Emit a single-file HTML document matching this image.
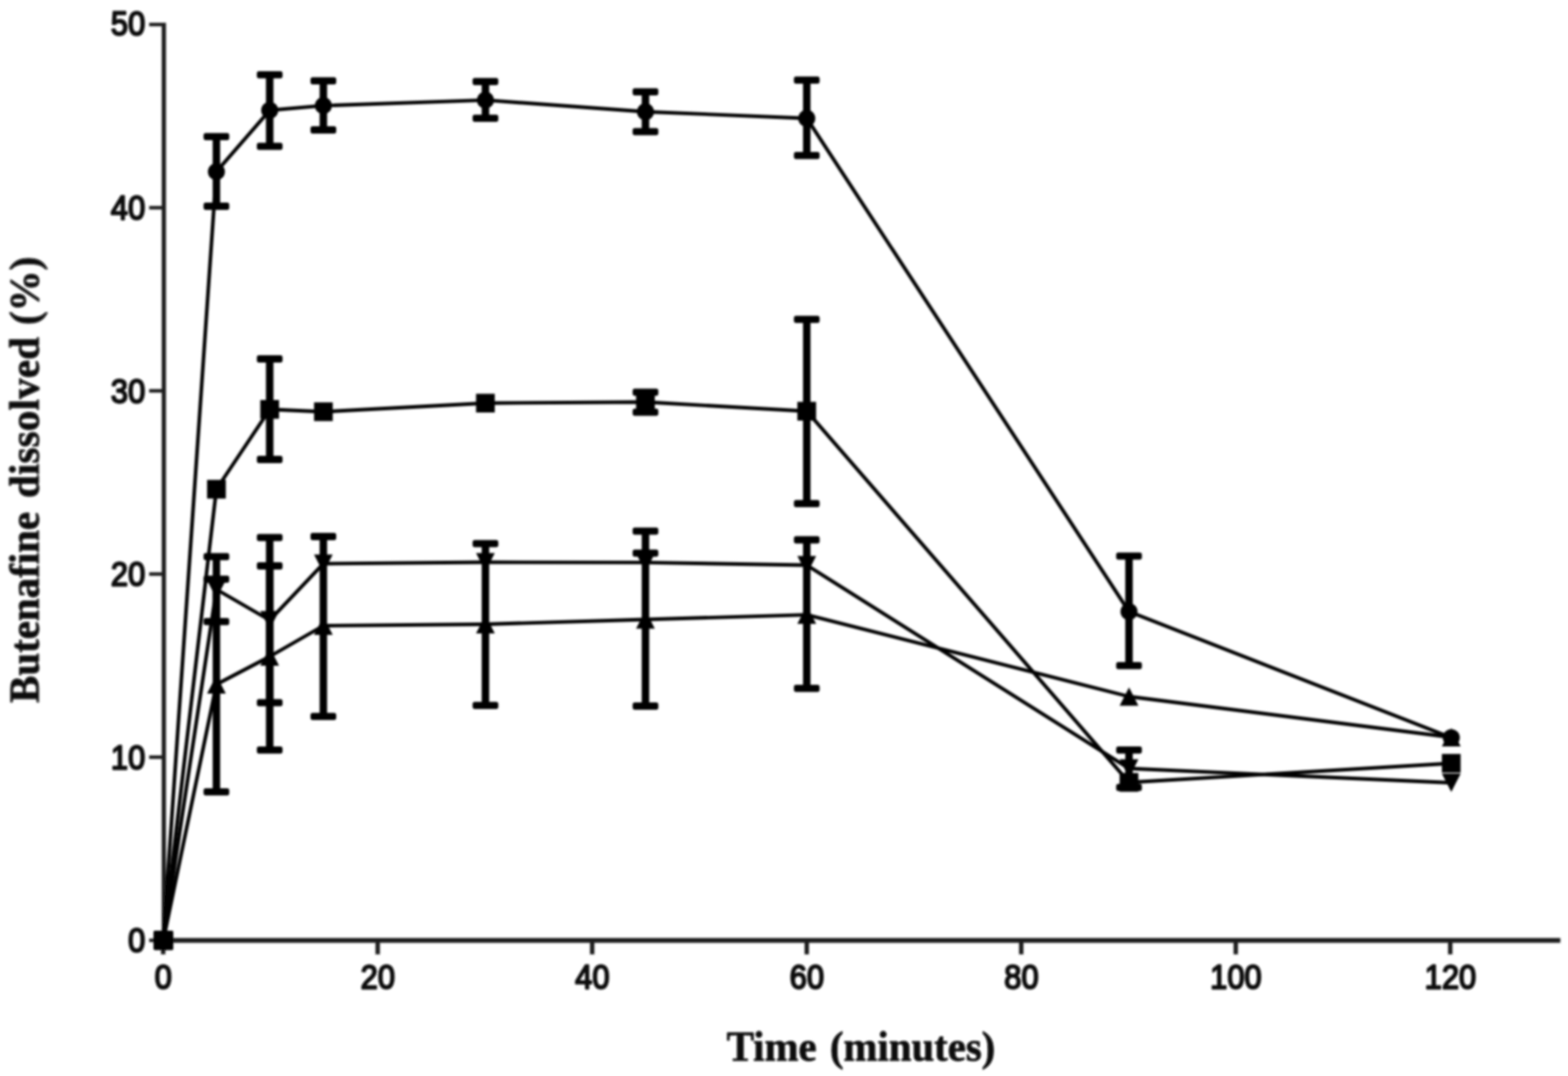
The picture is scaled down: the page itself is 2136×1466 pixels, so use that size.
<!DOCTYPE html>
<html lang="en">
<head>
<meta charset="utf-8">
<title>Butenafine dissolved (%) vs Time (minutes)</title>
<style>
html,body{margin:0;padding:0;background:#fff;}
body{width:2136px;height:1466px;overflow:hidden;}
svg{display:block;}
</style>
</head>
<body>
<svg width="2136" height="1466" viewBox="0 0 2136 1466">
<defs><filter id="soft" x="0" y="0" width="2136" height="1466" filterUnits="userSpaceOnUse"><feGaussianBlur stdDeviation="1.4"/></filter></defs>
<rect width="2136" height="1466" fill="#fff"/>
<g filter="url(#soft)">
<g id="axes" stroke="#1c1c1c" fill="none">
<path d="M223.2 31.0V1284.1" stroke-width="5.8"/>
<path d="M220.3 1281.2H2125.6" stroke-width="6.6"/>
<path d="M203.2 1281.2H223.2" stroke-width="4.8"/>
<path d="M203.2 1031.6H223.2" stroke-width="4.8"/>
<path d="M203.2 782.1H223.2" stroke-width="4.8"/>
<path d="M203.2 532.5H223.2" stroke-width="4.8"/>
<path d="M203.2 283.0H223.2" stroke-width="4.8"/>
<path d="M203.2 33.4H223.2" stroke-width="4.8"/>
<path d="M222.3 1281.2V1300.3" stroke-width="6.0"/>
<path d="M514.5 1281.2V1300.3" stroke-width="6.0"/>
<path d="M806.7 1281.2V1300.3" stroke-width="6.0"/>
<path d="M1099.0 1281.2V1300.3" stroke-width="6.0"/>
<path d="M1391.2 1281.2V1300.3" stroke-width="6.0"/>
<path d="M1683.4 1281.2V1300.3" stroke-width="6.0"/>
<path d="M1975.6 1281.2V1300.3" stroke-width="6.0"/>
</g>
<g id="lines" stroke="#000" fill="none" stroke-width="4.9" stroke-linejoin="round">
<polyline points="222.5,1281.3 294.8,233.9 367.4,150.3 440.5,143.9 661.3,136.4 879.3,152.2 1099.0,161.2 1538.0,833.3 1977.0,1005.0"/>
<polyline points="222.5,1281.3 294.8,666.5 367.4,557.8 440.5,561.0 661.3,549.2 879.3,547.8 1099.0,560.2 1538.0,1066.0 1977.0,1040.0"/>
<polyline points="222.5,1281.3 294.8,803.0 367.4,845.0 440.5,768.0 661.3,766.0 879.3,766.4 1099.0,770.0 1538.0,1047.0 1977.0,1066.5"/>
<polyline points="222.5,1281.3 294.8,932.5 367.4,894.5 440.5,852.5 661.3,850.5 879.3,844.0 1099.0,837.6 1538.0,949.0 1977.0,1004.5"/>
</g>
<g id="errorbars" stroke="#000" fill="none">
<path d="M294.8 186.1V281.0" stroke-width="10.2"/>
<rect x="277.3" y="181.2" width="35.0" height="9.8" rx="3" fill="#000" stroke="none"/>
<rect x="277.3" y="276.1" width="35.0" height="9.8" rx="3" fill="#000" stroke="none"/>
<path d="M367.4 101.8V199.4" stroke-width="10.2"/>
<rect x="349.9" y="96.9" width="35.0" height="9.8" rx="3" fill="#000" stroke="none"/>
<rect x="349.9" y="194.5" width="35.0" height="9.8" rx="3" fill="#000" stroke="none"/>
<path d="M440.5 110.2V177.0" stroke-width="10.2"/>
<rect x="423.0" y="105.3" width="35.0" height="9.8" rx="3" fill="#000" stroke="none"/>
<rect x="423.0" y="172.1" width="35.0" height="9.8" rx="3" fill="#000" stroke="none"/>
<path d="M661.3 111.2V161.2" stroke-width="10.2"/>
<rect x="643.8" y="106.3" width="35.0" height="9.8" rx="3" fill="#000" stroke="none"/>
<rect x="643.8" y="156.3" width="35.0" height="9.8" rx="3" fill="#000" stroke="none"/>
<path d="M879.3 125.2V179.4" stroke-width="10.2"/>
<rect x="861.8" y="120.3" width="35.0" height="9.8" rx="3" fill="#000" stroke="none"/>
<rect x="861.8" y="174.5" width="35.0" height="9.8" rx="3" fill="#000" stroke="none"/>
<path d="M1099.0 109.2V211.8" stroke-width="10.2"/>
<rect x="1081.5" y="104.3" width="35.0" height="9.8" rx="3" fill="#000" stroke="none"/>
<rect x="1081.5" y="206.9" width="35.0" height="9.8" rx="3" fill="#000" stroke="none"/>
<path d="M1538.0 757.7V906.8" stroke-width="10.2"/>
<rect x="1520.5" y="752.8" width="35.0" height="9.8" rx="3" fill="#000" stroke="none"/>
<rect x="1520.5" y="901.9" width="35.0" height="9.8" rx="3" fill="#000" stroke="none"/>
<path d="M367.4 489.0V626.0" stroke-width="10.2"/>
<rect x="349.9" y="484.1" width="35.0" height="9.8" rx="3" fill="#000" stroke="none"/>
<rect x="349.9" y="621.1" width="35.0" height="9.8" rx="3" fill="#000" stroke="none"/>
<path d="M879.3 534.3V561.6" stroke-width="10.2"/>
<rect x="861.8" y="529.4" width="35.0" height="9.8" rx="3" fill="#000" stroke="none"/>
<rect x="861.8" y="556.7" width="35.0" height="9.8" rx="3" fill="#000" stroke="none"/>
<path d="M1099.0 435.1V686.1" stroke-width="10.2"/>
<rect x="1081.5" y="430.2" width="35.0" height="9.8" rx="3" fill="#000" stroke="none"/>
<rect x="1081.5" y="681.2" width="35.0" height="9.8" rx="3" fill="#000" stroke="none"/>
<path d="M294.8 758.3V846.8" stroke-width="10.2"/>
<rect x="277.3" y="753.4" width="35.0" height="9.8" rx="3" fill="#000" stroke="none"/>
<rect x="277.3" y="841.9" width="35.0" height="9.8" rx="3" fill="#000" stroke="none"/>
<path d="M367.4 732.3V957.3" stroke-width="10.2"/>
<rect x="349.9" y="727.4" width="35.0" height="9.8" rx="3" fill="#000" stroke="none"/>
<rect x="349.9" y="952.4" width="35.0" height="9.8" rx="3" fill="#000" stroke="none"/>
<path d="M879.3 753.6V766.4" stroke-width="10.2"/>
<rect x="861.8" y="748.7" width="35.0" height="9.8" rx="3" fill="#000" stroke="none"/>
<path d="M1538.0 1021.8V1072.9" stroke-width="10.2"/>
<rect x="1520.5" y="1016.9" width="35.0" height="9.8" rx="3" fill="#000" stroke="none"/>
<rect x="1520.5" y="1068.0" width="35.0" height="9.8" rx="3" fill="#000" stroke="none"/>
<path d="M294.8 789.2V1078.8" stroke-width="10.2"/>
<rect x="277.3" y="784.3" width="35.0" height="9.8" rx="3" fill="#000" stroke="none"/>
<rect x="277.3" y="1073.9" width="35.0" height="9.8" rx="3" fill="#000" stroke="none"/>
<path d="M367.4 771.0V1021.9" stroke-width="10.2"/>
<rect x="349.9" y="766.1" width="35.0" height="9.8" rx="3" fill="#000" stroke="none"/>
<rect x="349.9" y="1017.0" width="35.0" height="9.8" rx="3" fill="#000" stroke="none"/>
<path d="M440.5 731.0V976.2" stroke-width="10.2"/>
<rect x="423.0" y="726.1" width="35.0" height="9.8" rx="3" fill="#000" stroke="none"/>
<rect x="423.0" y="971.3" width="35.0" height="9.8" rx="3" fill="#000" stroke="none"/>
<path d="M661.3 740.6V961.2" stroke-width="10.2"/>
<rect x="643.8" y="735.7" width="35.0" height="9.8" rx="3" fill="#000" stroke="none"/>
<rect x="643.8" y="956.3" width="35.0" height="9.8" rx="3" fill="#000" stroke="none"/>
<path d="M879.3 723.7V962.0" stroke-width="10.2"/>
<rect x="861.8" y="718.8" width="35.0" height="9.8" rx="3" fill="#000" stroke="none"/>
<rect x="861.8" y="957.1" width="35.0" height="9.8" rx="3" fill="#000" stroke="none"/>
<path d="M1099.0 735.5V937.9" stroke-width="10.2"/>
<rect x="1081.5" y="730.6" width="35.0" height="9.8" rx="3" fill="#000" stroke="none"/>
<rect x="1081.5" y="933.0" width="35.0" height="9.8" rx="3" fill="#000" stroke="none"/>
</g>
<g id="markers" fill="#000" stroke="none">
<rect x="209.1" y="1267.9" width="27" height="26.6" rx="2"/>
<circle cx="222.5" cy="1281.3" r="11.60"/>
<circle cx="294.8" cy="233.9" r="11.60"/>
<circle cx="367.4" cy="150.3" r="11.60"/>
<circle cx="440.5" cy="143.9" r="11.60"/>
<circle cx="661.3" cy="136.4" r="11.60"/>
<circle cx="879.3" cy="152.2" r="11.60"/>
<circle cx="1099.0" cy="161.2" r="11.60"/>
<circle cx="1538.0" cy="833.3" r="11.60"/>
<circle cx="1977.0" cy="1005.0" r="11.60"/>
<rect x="209.8" y="1268.5" width="25.5" height="25.5"/>
<rect x="282.1" y="653.8" width="25.5" height="25.5"/>
<rect x="354.6" y="545.0" width="25.5" height="25.5"/>
<rect x="427.8" y="548.2" width="25.5" height="25.5"/>
<rect x="648.5" y="536.5" width="25.5" height="25.5"/>
<rect x="866.5" y="535.0" width="25.5" height="25.5"/>
<rect x="1086.2" y="547.5" width="25.5" height="25.5"/>
<rect x="1525.2" y="1053.2" width="25.5" height="25.5"/>
<rect x="1964.2" y="1027.2" width="25.5" height="25.5"/>
<path d="M222.5 1293.8L235.2 1268.8H209.8Z"/>
<path d="M294.8 815.5L307.6 790.5H282.1Z"/>
<path d="M367.4 857.5L380.1 832.5H354.6Z"/>
<path d="M440.5 780.5L453.2 755.5H427.8Z"/>
<path d="M661.3 778.5L674.0 753.5H648.5Z"/>
<path d="M879.3 778.9L892.0 753.9H866.5Z"/>
<path d="M1099.0 782.5L1111.8 757.5H1086.2Z"/>
<path d="M1538.0 1059.5L1550.8 1034.5H1525.2Z"/>
<path d="M1977.0 1079.0L1989.8 1054.0H1964.2Z"/>
<path d="M222.5 1268.8L235.2 1293.8H209.8Z"/>
<path d="M294.8 920.0L307.6 945.0H282.1Z"/>
<path d="M367.4 882.0L380.1 907.0H354.6Z"/>
<path d="M440.5 840.0L453.2 865.0H427.8Z"/>
<path d="M661.3 838.0L674.0 863.0H648.5Z"/>
<path d="M879.3 831.5L892.0 856.5H866.5Z"/>
<path d="M1099.0 825.1L1111.8 850.1H1086.2Z"/>
<path d="M1538.0 936.5L1550.8 961.5H1525.2Z"/>
<path d="M1977.0 992.0L1989.8 1017.0H1964.2Z"/>
</g>
<g id="ticklabels" font-family="'Liberation Sans', Arial, Helvetica, sans-serif" font-size="46.9" fill="#111" stroke="#111" stroke-width="2.6" stroke-linejoin="round">
<text transform="translate(197.8 1297.2) scale(0.895 1)" text-anchor="end">0</text>
<text transform="translate(197.8 1047.6) scale(0.895 1)" text-anchor="end">10</text>
<text transform="translate(197.8 798.1) scale(0.895 1)" text-anchor="end">20</text>
<text transform="translate(197.8 548.5) scale(0.895 1)" text-anchor="end">30</text>
<text transform="translate(197.8 299.0) scale(0.895 1)" text-anchor="end">40</text>
<text transform="translate(197.8 48.3) scale(0.895 1)" text-anchor="end">50</text>
<text transform="translate(222.5 1347.3) scale(0.895 1)" text-anchor="middle">0</text>
<text transform="translate(514.7 1347.3) scale(0.895 1)" text-anchor="middle">20</text>
<text transform="translate(806.9 1347.3) scale(0.895 1)" text-anchor="middle">40</text>
<text transform="translate(1099.2 1347.3) scale(0.895 1)" text-anchor="middle">60</text>
<text transform="translate(1391.4 1347.3) scale(0.895 1)" text-anchor="middle">80</text>
<text transform="translate(1683.6 1347.3) scale(0.895 1)" text-anchor="middle">100</text>
<text transform="translate(1975.8 1347.3) scale(0.895 1)" text-anchor="middle">120</text>
</g>
<g id="axislabels" font-family="'Liberation Serif', 'Times New Roman', Times, serif" font-weight="bold" font-size="57.0" fill="#0a0a0a" stroke="#0a0a0a" stroke-width="0.9" stroke-linejoin="round">
<text transform="translate(1172.9 1445) scale(0.975 1)" text-anchor="middle" word-spacing="4.3">Time (minutes)</text>
<text transform="translate(52.6 653.8) rotate(-90) scale(0.979 1)" text-anchor="middle" word-spacing="5">Butenafine <tspan letter-spacing="0.3">dissolved</tspan><tspan dx="-2.7"> (%)</tspan></text>
</g>
</g>
</svg>
</body>
</html>
